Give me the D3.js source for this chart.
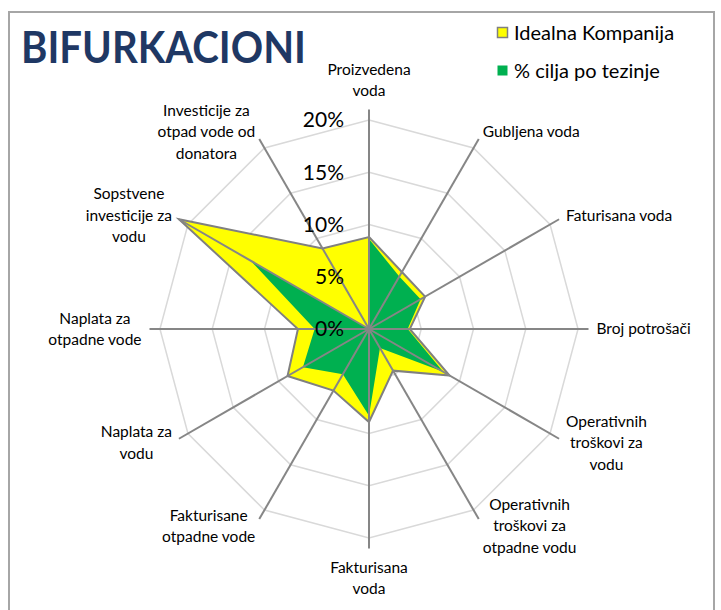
<!DOCTYPE html>
<html>
<head>
<meta charset="utf-8">
<script src="https://cdnjs.cloudflare.com/ajax/libs/d3/7.8.5/d3.min.js"></script>
<style>
  body { margin: 0; background: #fff; }
  svg { display: block; }
  text { font-family: Lato, "Open Sans", sans-serif; }
</style>
</head>
<body>
<div id="chart"></div>
<script>
// axis labels, clockwise from the top, split into lines like the original
var categories = [
  ["Proizvedena", "voda"],
  ["Gubljena voda"],
  ["Faturisana voda"],
  ["Broj potrošači"],
  ["Operativnih", "troškovi za", "vodu"],
  ["Operativnih", "troškovi za", "otpadne vodu"],
  ["Fakturisana", "voda"],
  ["Fakturisane", "otpadne vode"],
  ["Naplata za", "vodu"],
  ["Naplata za", "otpadne vode"],
  ["Sopstvene", "investicije za", "vodu"],
  ["Investicije za", "otpad vode od", "donatora"]
];

var seriesNames = ["Idealna Kompanija", "% cilja po tezinje"];

// values (fractions)
var idealna = [0.088, 0.063, 0.062, 0.039, 0.089, 0.046, 0.089, 0.068, 0.090, 0.068, 0.210, 0.089];
var cilj    = [0.086, 0.058, 0.057, 0.037, 0.082, 0.021, 0.083, 0.050, 0.073, 0.052, 0.131, 0.000];

var ticks = [0, 0.05, 0.10, 0.15, 0.20];
var rMax = 0.21;

var width = 721, height = 610;
var cx = 369, cy = 329;

var svg = d3.select("#chart")
  .append("svg")
  .attr("width", width)
  .attr("height", height);

// outer frame
svg.append("rect")
  .attr("x", 9)
  .attr("y", 12)
  .attr("width", 705)
  .attr("height", 640)
  .attr("fill", "none")
  .attr("stroke", "#a6a6a6")
  .attr("stroke-width", 2);

// title
svg.append("text")
  .attr("x", 21)
  .attr("y", 63)
  .attr("fill", "#1f3864")
  .style("font-size", "44px")
  .style("font-weight", "bold")
  .attr("textLength", 285)
  .attr("lengthAdjust", "spacingAndGlyphs")
  .text("BIFURKACIONI");

var r = d3.scaleLinear().domain([0, rMax]).range([0, 219.5]);
var angle = d3.scaleLinear().domain([0, categories.length]).range([0, 2 * Math.PI]);

var g = svg.append("g")
  .attr("transform", "translate(" + cx + "," + cy + ")");

// gridlines
var grid = d3.lineRadial()
  .angle(function(d, i) { return angle(i); })
  .radius(function(d) { return r(d); })
  .curve(d3.curveLinearClosed);

g.selectAll(".grid")
  .data(ticks.filter(function(t) { return t > 0; }))
  .enter()
  .append("path")
  .attr("class", "grid")
  .attr("d", function(t) { return grid(categories.map(function() { return t; })); })
  .attr("fill", "none")
  .attr("stroke", "#d9d9d9")
  .attr("stroke-width", 1.5);

var area = d3.lineRadial()
  .angle(function(d, i) { return angle(i); })
  .radius(function(d) { return r(d); })
  .curve(d3.curveLinearClosed);

// Idealna Kompanija
g.append("path")
  .attr("d", area(idealna))
  .attr("fill", "#ffff00")
  .attr("stroke", "#808080")
  .attr("stroke-width", 2)
  .attr("stroke-linejoin", "miter");

// % cilja po tezinje
g.append("path")
  .attr("d", area(cilj))
  .attr("fill", "#00b050");

// spokes
g.selectAll(".spoke")
  .data(categories)
  .enter()
  .append("line")
  .attr("class", "spoke")
  .attr("x1", 0)
  .attr("y1", 0)
  .attr("x2", function(d, i) { return Math.sin(angle(i)) * r(rMax); })
  .attr("y2", function(d, i) { return -Math.cos(angle(i)) * r(rMax); })
  .attr("stroke", "#868686")
  .attr("stroke-width", 2);

// value labels along the top spoke
g.selectAll(".tick")
  .data(ticks)
  .enter()
  .append("text")
  .attr("class", "tick")
  .attr("x", -25)
  .attr("y", function(d) { return -r(d); })
  .attr("dy", "0.35em")
  .attr("text-anchor", "end")
  .style("font-size", "21px")
  .attr("fill", "#000")
  .text(d3.format(".0%"));

// category labels, placed just outside each spoke end
var lh = 21.5;
categories.forEach(function(lines, i) {
  var a = angle(i), s = Math.sin(a), c = Math.cos(a);
  var px = s * (r(rMax) + 8), py = -c * (r(rMax) + 8);
  var lab = g.append("g").attr("class", "cat");
  var texts = lines.map(function(t) {
    return lab.append("text")
      .attr("text-anchor", "middle")
      .attr("dy", "0.35em")
      .style("font-size", "15.5px")
      .attr("fill", "#000")
      .text(t);
  });
  var w = d3.max(texts, function(t) { return t.node().getComputedTextLength(); });
  var h = lines.length * lh;
  var bx = Math.abs(s) < 0.01 ? px : (s > 0 ? px + w / 2 : px - w / 2);
  var by = Math.abs(s) < 0.01 ? (c > 0 ? py - h / 2 : py + h / 2) : py;
  texts.forEach(function(t, j) {
    t.attr("x", bx).attr("y", by + (j - (lines.length - 1) / 2) * lh);
  });
});

// legend
var legend = svg.append("g").attr("transform", "translate(497,27)");
var legColors = [["#ffff00", "#808080"], ["#00b050", "none"]];
seriesNames.forEach(function(name, i) {
  legend.append("rect")
    .attr("x", 0.5)
    .attr("y", i * 38 + 0.5)
    .attr("width", 10)
    .attr("height", 10)
    .attr("fill", legColors[i][0])
    .attr("stroke", legColors[i][1])
    .attr("stroke-width", 1.5);
  legend.append("text")
    .attr("x", 17)
    .attr("y", i * 38 + 6)
    .attr("dy", "0.35em")
    .style("font-size", "20px")
    .attr("fill", "#000")
    .text(name);
});
</script>
</body>
</html>
